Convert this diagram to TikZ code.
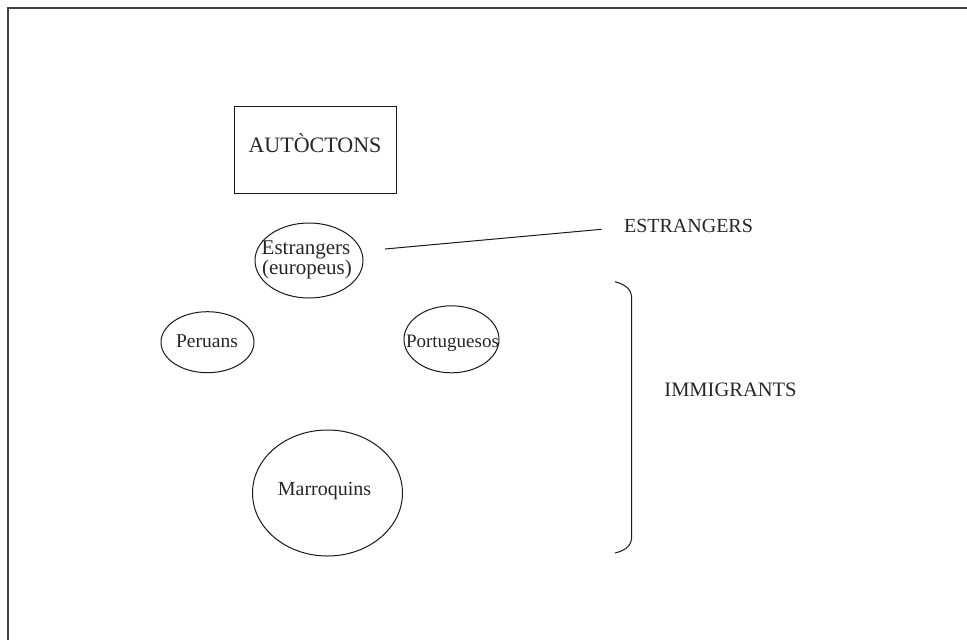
\documentclass[tikz,border=0pt]{standalone}
\usepackage{fontspec}
\setmainfont{Liberation Serif}
\usetikzlibrary{shapes.geometric}
\begin{document}
\begin{tikzpicture}[x=1pt,y=-1pt,
  shp/.style={draw=black!90, line width=1pt},
  oval/.style={shp, ellipse, inner sep=0pt},
  lbl/.style={anchor=base, inner sep=0pt, text=black!85},
  fs/.style={font=\fontsize{#1}{#1}\selectfont}]
\useasboundingbox (0,0) rectangle (967,640);
% frame (top and left edges only)
\coordinate (tr) at (967,8);
\coordinate (tl) at (8,8);
\coordinate (bl) at (8,640);
\draw[line width=1.5pt, black!75] (tr) -- (tl) -- (bl);
% AUTOCTONS box
\node[shp, rectangle, minimum width=162pt, minimum height=87pt] (autbox) at (315,149.5) {};
\node[lbl, fs=22] (aut) at (315,152) {AUTÒCTONS};
% Estrangers (europeus)
\node[oval, minimum width=108pt, minimum height=75pt] (estov) at (309,260.5) {};
\node[lbl, fs=21] (est1) at (306,254) {Estrangers};
\node[lbl, fs=21] (est2) at (307,274) {(europeus)};
% Peruans
\node[oval, minimum width=93pt, minimum height=61pt] (perov) at (207.5,342.2) {};
\node[lbl, fs=19.5] (per) at (207,347) {Peruans};
% Portuguesos
\node[oval, minimum width=95pt, minimum height=67pt] (porov) at (451.5,339.3) {};
\node[lbl, fs=19] (por) at (452.5,347) {Portuguesos};
% Marroquins
\node[oval, minimum width=150pt, minimum height=126pt] (marov) at (327.5,493) {};
\node[lbl, fs=20] (mar) at (324.5,495.7) {Marroquins};
% right-hand labels
\node[lbl, fs=20] (estr) at (688.5,232) {ESTRANGERS};
\node[lbl, fs=20.5] (imm) at (730.5,396.5) {IMMIGRANTS};
% connector line
\coordinate (ls) at (385,249);
\coordinate (le) at (601.5,229.3);
\draw[shp] (ls) -- (le);
% bracket
\coordinate (b1) at (615,281.7);
\coordinate (b2) at (615,553);
\draw[shp] (b1) .. controls (627,285) and (631.7,290) .. (631.7,299)
  -- (631.7,536) .. controls (631.7,545) and (627,550) .. (b2);
\end{tikzpicture}
\end{document}
